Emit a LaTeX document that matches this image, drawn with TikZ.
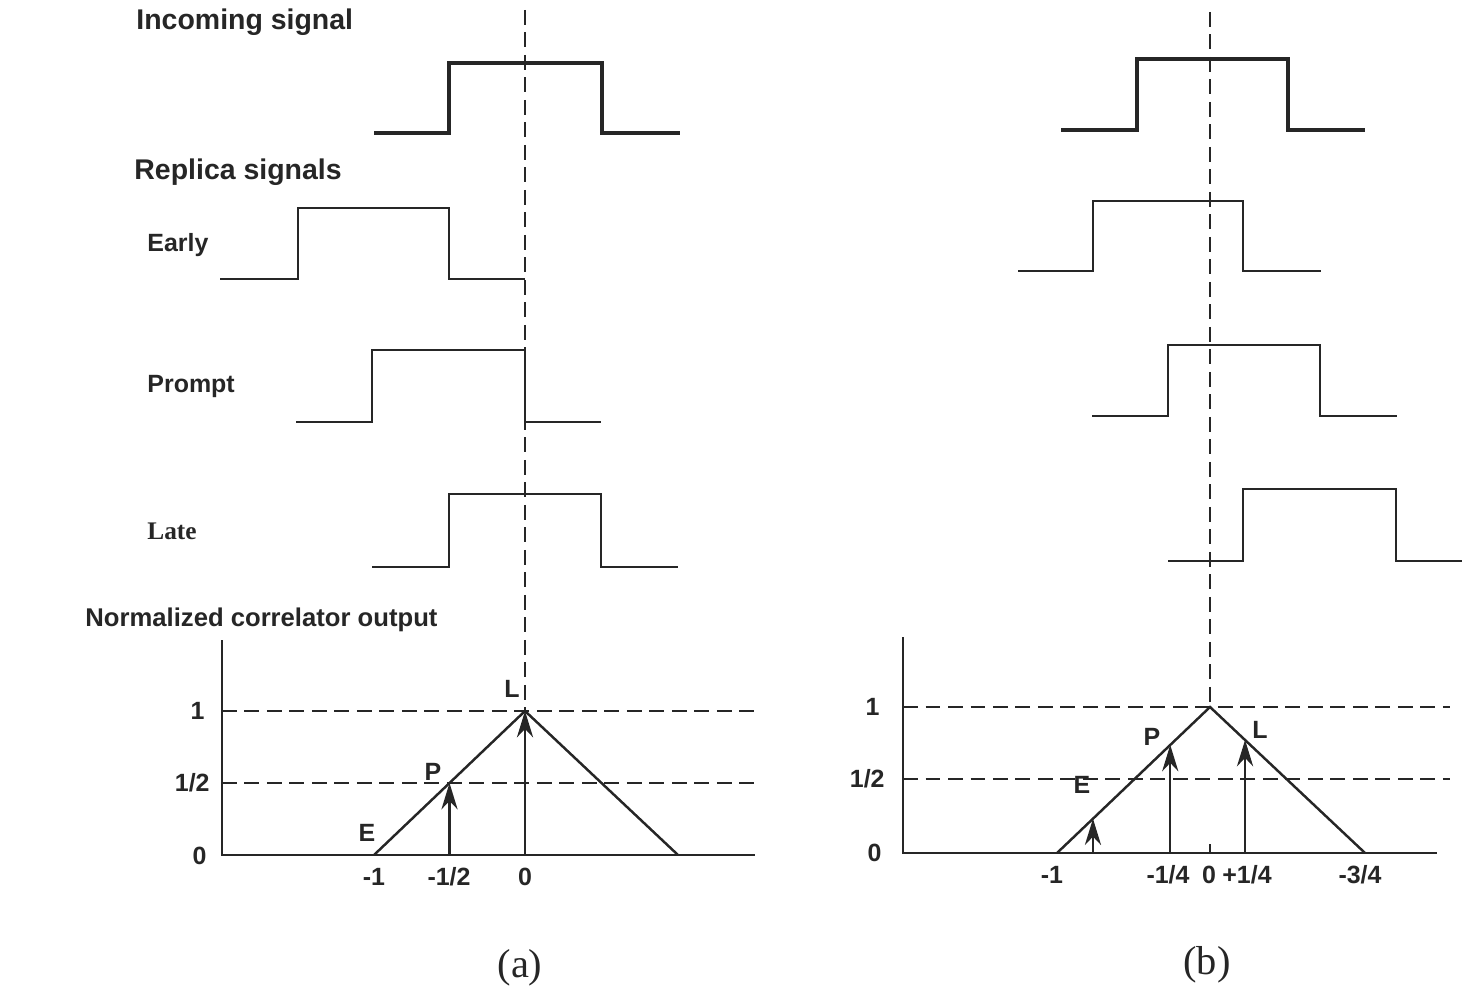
\documentclass[tikz,border=0pt]{standalone}
\usepackage{fontspec}
\setmainfont{Liberation Sans}
\newfontfamily\timesfont{Liberation Serif}
\usepackage{tikz}
\usetikzlibrary{arrows.meta,calc}

\tikzset{
  sig/.style={line width=0.6pt, line join=miter},
  insig/.style={line width=0.9pt, line join=miter},
  guide/.style={line width=0.4pt, dash pattern=on 4.2pt off 2.2pt},
  axis/.style={line width=0.7pt},
  corr/.style={-{Stealth[length=7.5pt,width=4.6pt,inset=2.4pt]}, line width=0.65pt},
  head/.style={font=\fontsize{8.1}{9}\selectfont\bfseries, anchor=west},
  lbl/.style={font=\fontsize{7.1}{8}\selectfont\bfseries},
  panelcap/.style={font=\timesfont\fontsize{11.5}{13}\selectfont}
}

\begin{document}
\begin{tikzpicture}[color=black!85]
            \useasboundingbox (0,0) rectangle (14.62,9.90);
            % (a)
            \draw[guide] (5.25,9.80) -- (5.25,2.79);
            \draw[insig] (3.74,8.57) -- (4.49,8.57) -- (4.49,9.27) -- (6.02,9.27) -- (6.02,8.57) -- (6.80,8.57);
            \draw[sig] (2.20,7.11) -- (2.98,7.11) -- (2.98,7.82) -- (4.49,7.82) -- (4.49,7.11) -- (5.25,7.11);
            \draw[sig] (2.96,5.68) -- (3.72,5.68) -- (3.72,6.40) -- (5.25,6.40) -- (5.25,5.68) -- (6.01,5.68);
            \draw[sig] (3.72,4.23) -- (4.49,4.23) -- (4.49,4.96) -- (6.01,4.96) -- (6.01,4.23) -- (6.78,4.23);
            \node[head] (incoming) at (1.24,9.68) {Incoming signal};
            \node[head] (replica) at (1.22,8.18) {Replica signals};
            \node[lbl, anchor=west] (early) at (1.35,7.45) {Early};
            \node[lbl, anchor=west] (prompt) at (1.35,6.03) {Prompt};
            \node[anchor=west, font=\timesfont\fontsize{7.2}{8}\selectfont\bfseries] (late) at (1.35,4.59) {Late};
            \node[lbl, anchor=west, font=\fontsize{7.3}{8}\selectfont\bfseries] (normout) at (0.73,3.70) {Normalized correlator output};
            \draw[axis] (2.22,3.50) -- (2.22,1.35) -- (7.55,1.35);
            \draw[guide] (2.22,2.79) -- (7.55,2.79);
            \draw[guide] (2.22,2.07) -- (7.55,2.07);
            \coordinate (a-lo) at (3.74,1.35);
            \coordinate (a-pk) at (5.25,2.79);
            \coordinate (a-hi) at (6.78,1.35);
            \draw[axis] (a-lo) -- (a-pk) -- (a-hi);
            \coordinate (a-p) at ($(a-lo)!0.5!(a-pk)$);
            \draw[corr] (a-p |- a-lo) -- (a-p);
            \draw[corr] (a-pk |- a-lo) -- (a-pk);
            \node[lbl, anchor=east] (a-one) at (2.17,2.79) {1};
            \node[lbl, anchor=east] (a-half) at (2.22,2.07) {1/2};
            \node[lbl, anchor=east] (a-zero) at (2.19,1.34) {0};
            \node[lbl] (a-e) at (3.67,1.57) {E};
            \node[lbl] (a-pl) at (4.33,2.18) {P};
            \node[lbl] (a-l) at (5.12,3.01) {L};
            \node[lbl] (a-m1) at (3.74,1.13) {-1};
            \node[lbl] (a-m12) at (4.49,1.13) {-1/2};
            \node[lbl] (a-0) at (5.25,1.13) {0};
            \node[panelcap] (capa) at (5.20,0.22) {(a)};
            % (b)
            \draw[guide] (12.10,9.78) -- (12.10,2.83);
            \draw[insig] (10.61,8.60) -- (11.37,8.60) -- (11.37,9.31) -- (12.88,9.31) -- (12.88,8.60) -- (13.65,8.60);
            \draw[sig] (10.18,7.19) -- (10.93,7.19) -- (10.93,7.89) -- (12.43,7.89) -- (12.43,7.19) -- (13.21,7.19);
            \draw[sig] (10.92,5.74) -- (11.68,5.74) -- (11.68,6.45) -- (13.20,6.45) -- (13.20,5.74) -- (13.97,5.74);
            \draw[sig] (11.68,4.29) -- (12.43,4.29) -- (12.43,5.01) -- (13.96,5.01) -- (13.96,4.29) -- (14.62,4.29);
            \draw[axis] (9.03,3.53) -- (9.03,1.37) -- (14.37,1.37);
            \draw[guide] (9.03,2.83) -- (14.50,2.83);
            \draw[guide] (9.03,2.11) -- (14.50,2.11);
            \coordinate (b-lo) at (10.57,1.37);
            \coordinate (b-pk) at (12.10,2.83);
            \coordinate (b-hi) at (13.65,1.37);
            \draw[axis] (b-lo) -- (b-pk) -- (b-hi);
            \draw[sig] (12.10,1.37) -- (12.10,1.46);
            \coordinate (b-e) at ($(b-lo)!0.235!(b-pk)$);
            \coordinate (b-p) at ($(b-lo)!0.74!(b-pk)$);
            \coordinate (b-l) at ($(b-pk)!0.226!(b-hi)$);
            \draw[corr] (b-e |- b-lo) -- (b-e);
            \draw[corr] (b-p |- b-lo) -- (b-p);
            \draw[corr] (b-l |- b-lo) -- (b-l);
            \node[lbl, anchor=east] (b-one) at (8.92,2.83) {1};
            \node[lbl, anchor=east] (b-half) at (8.97,2.11) {1/2};
            \node[lbl, anchor=east] (b-zero) at (8.94,1.37) {0};
            \node[lbl] (b-el) at (10.82,2.05) {E};
            \node[lbl] (b-pl) at (11.52,2.53) {P};
            \node[lbl] (b-ll) at (12.60,2.60) {L};
            \node[lbl] (b-m1) at (10.52,1.15) {-1};
            \node[lbl] (b-m14) at (11.68,1.15) {-1/4};
            \node[lbl] (b-0) at (12.09,1.15) {0};
            \node[lbl] (b-p14) at (12.47,1.15) {+1/4};
            \node[lbl] (b-m34) at (13.60,1.15) {-3/4};
            \node[panelcap] (capb) at (12.07,0.25) {(b)};
        \end{tikzpicture}
\end{document}
